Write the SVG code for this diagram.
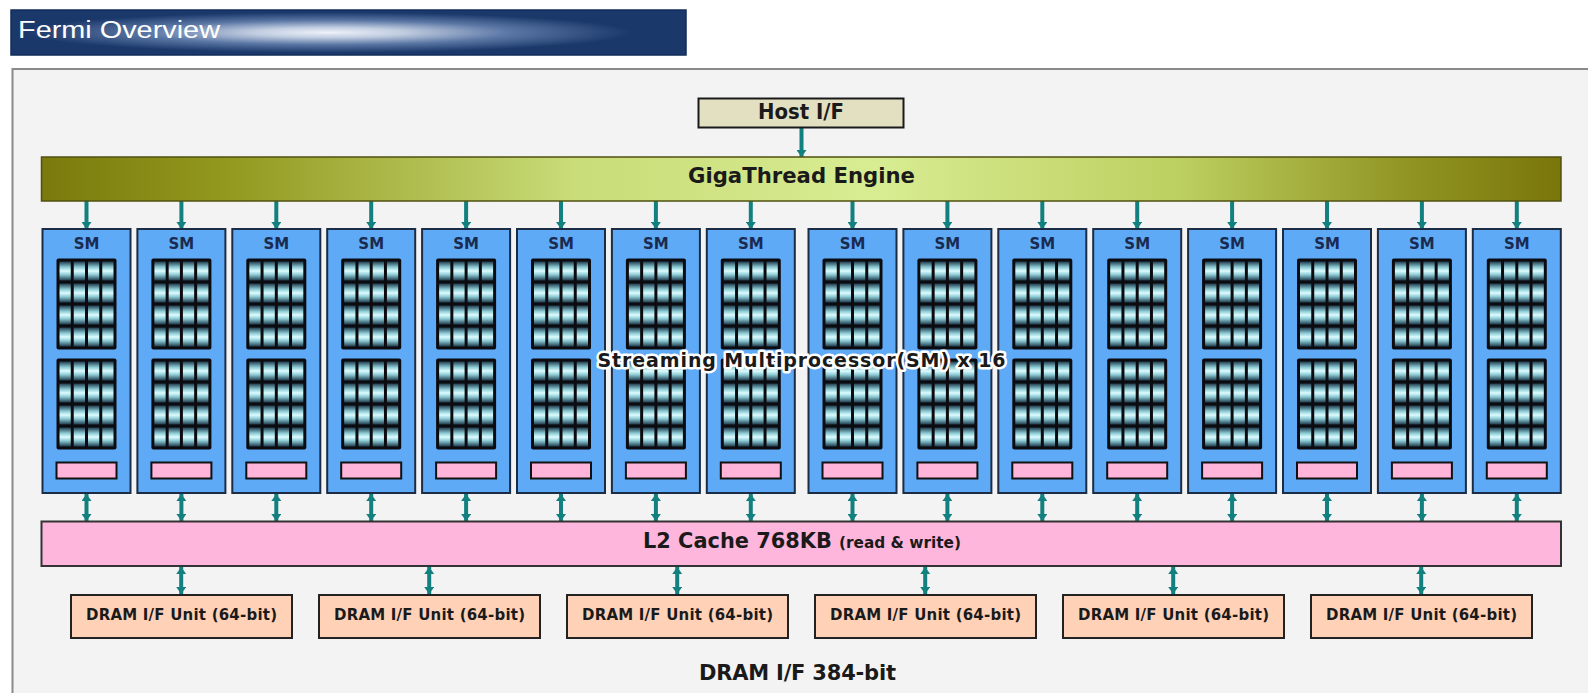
<svg xmlns="http://www.w3.org/2000/svg" xmlns:xlink="http://www.w3.org/1999/xlink" width="1588" height="693" viewBox="0 0 1588 693">
<style>
.lbl{font-family:"DejaVu Sans","Liberation Sans",sans-serif;font-weight:bold;fill:#1a1a1a;text-anchor:middle}
.sm{fill:#5eaaf6;stroke:#1c2c44;stroke-width:2}
.smt{font-family:"DejaVu Sans","Liberation Sans",sans-serif;font-weight:bold;font-size:15px;fill:#1a2a50;text-anchor:middle}
.pk{fill:#ffb4da;stroke:#111;stroke-width:2}
.dram{fill:#ffd2b8;stroke:#222;stroke-width:2}
.cn{stroke:#12807f;stroke-width:4;fill:none}
.one{marker-end:url(#ah)}
.two{marker-end:url(#ah);marker-start:url(#ah)}
</style>
<defs>
<marker id="ah" viewBox="0 0 7 10" refX="7" refY="5" markerWidth="7" markerHeight="10" markerUnits="userSpaceOnUse" orient="auto-start-reverse">
<path d="M0,0 L7,5 L0,10 z" fill="#12807f"/>
</marker>
<radialGradient id="tg" cx="0.47" cy="0.5" r="0.45">
<stop offset="0" stop-color="#eef2f8"/>
<stop offset="0.25" stop-color="#c0cce0"/>
<stop offset="0.6" stop-color="#5a76a4"/>
<stop offset="1" stop-color="#1a386a"/>
</radialGradient>
<linearGradient id="gg" x1="0" y1="0" x2="1" y2="0">
<stop offset="0" stop-color="#7a7a0c"/>
<stop offset="0.12" stop-color="#92981e"/>
<stop offset="0.35" stop-color="#c8dc78"/>
<stop offset="0.55" stop-color="#d8ec92"/>
<stop offset="0.75" stop-color="#bccf60"/>
<stop offset="0.9" stop-color="#909422"/>
<stop offset="1" stop-color="#7a760a"/>
</linearGradient>
<linearGradient id="cg" x1="0" y1="0" x2="0" y2="1">
<stop offset="0" stop-color="#1e3a4c"/>
<stop offset="0.3" stop-color="#8ccad4"/>
<stop offset="0.5" stop-color="#dcfcff"/>
<stop offset="0.7" stop-color="#8ccad4"/>
<stop offset="1" stop-color="#1e3a4c"/>
</linearGradient>
<g id="grid">
<rect x="0" y="0" width="60" height="91" rx="2" fill="#0c0c10"/>
<g fill="url(#cg)">
<rect x="3" y="3" width="11.25" height="19"/><rect x="17.25" y="3" width="11.25" height="19"/><rect x="31.5" y="3" width="11.25" height="19"/><rect x="45.75" y="3" width="11.25" height="19"/>
<rect x="3" y="25" width="11.25" height="19"/><rect x="17.25" y="25" width="11.25" height="19"/><rect x="31.5" y="25" width="11.25" height="19"/><rect x="45.75" y="25" width="11.25" height="19"/>
<rect x="3" y="47" width="11.25" height="19"/><rect x="17.25" y="47" width="11.25" height="19"/><rect x="31.5" y="47" width="11.25" height="19"/><rect x="45.75" y="47" width="11.25" height="19"/>
<rect x="3" y="69" width="11.25" height="19"/><rect x="17.25" y="69" width="11.25" height="19"/><rect x="31.5" y="69" width="11.25" height="19"/><rect x="45.75" y="69" width="11.25" height="19"/>
</g>
</g>
<g id="smcore">
<rect class="sm" x="-44" y="229" width="88" height="264"/>
<text class="smt" x="0" y="249">SM</text>
<use xlink:href="#grid" x="-30" y="258.5"/>
<use xlink:href="#grid" x="-30" y="358.5"/>
<rect class="pk" x="-30" y="462.5" width="60" height="16"/>
</g>
</defs>
<rect width="1588" height="693" fill="#ffffff"/>
<g id="title">
<rect x="11" y="10" width="675" height="45" fill="url(#tg)" stroke="#122c58" stroke-width="1.5"/>
<text x="18" y="38" font-family="Liberation Sans,Arial,sans-serif" font-size="23" fill="#ffffff" textLength="202" lengthAdjust="spacingAndGlyphs">Fermi Overview</text>
</g>
<rect id="panel" x="12.5" y="69" width="1600" height="650" fill="#f3f3f3" stroke="#8a8a8a" stroke-width="2"/>
<g id="connectors">
<line class="cn one" x1="801.5" y1="127" x2="801.5" y2="157"/>
<line class="cn one" x1="86.5" y1="201" x2="86.5" y2="229"/>
<line class="cn one" x1="181.4" y1="201" x2="181.4" y2="229"/>
<line class="cn one" x1="276.3" y1="201" x2="276.3" y2="229"/>
<line class="cn one" x1="371.2" y1="201" x2="371.2" y2="229"/>
<line class="cn one" x1="466.1" y1="201" x2="466.1" y2="229"/>
<line class="cn one" x1="561" y1="201" x2="561" y2="229"/>
<line class="cn one" x1="655.9" y1="201" x2="655.9" y2="229"/>
<line class="cn one" x1="750.8" y1="201" x2="750.8" y2="229"/>
<line class="cn one" x1="852.5" y1="201" x2="852.5" y2="229"/>
<line class="cn one" x1="947.4" y1="201" x2="947.4" y2="229"/>
<line class="cn one" x1="1042.3" y1="201" x2="1042.3" y2="229"/>
<line class="cn one" x1="1137.2" y1="201" x2="1137.2" y2="229"/>
<line class="cn one" x1="1232.1" y1="201" x2="1232.1" y2="229"/>
<line class="cn one" x1="1327" y1="201" x2="1327" y2="229"/>
<line class="cn one" x1="1421.9" y1="201" x2="1421.9" y2="229"/>
<line class="cn one" x1="1516.8" y1="201" x2="1516.8" y2="229"/>
<line class="cn two" x1="86.5" y1="494" x2="86.5" y2="521"/>
<line class="cn two" x1="181.4" y1="494" x2="181.4" y2="521"/>
<line class="cn two" x1="276.3" y1="494" x2="276.3" y2="521"/>
<line class="cn two" x1="371.2" y1="494" x2="371.2" y2="521"/>
<line class="cn two" x1="466.1" y1="494" x2="466.1" y2="521"/>
<line class="cn two" x1="561" y1="494" x2="561" y2="521"/>
<line class="cn two" x1="655.9" y1="494" x2="655.9" y2="521"/>
<line class="cn two" x1="750.8" y1="494" x2="750.8" y2="521"/>
<line class="cn two" x1="852.5" y1="494" x2="852.5" y2="521"/>
<line class="cn two" x1="947.4" y1="494" x2="947.4" y2="521"/>
<line class="cn two" x1="1042.3" y1="494" x2="1042.3" y2="521"/>
<line class="cn two" x1="1137.2" y1="494" x2="1137.2" y2="521"/>
<line class="cn two" x1="1232.1" y1="494" x2="1232.1" y2="521"/>
<line class="cn two" x1="1327" y1="494" x2="1327" y2="521"/>
<line class="cn two" x1="1421.9" y1="494" x2="1421.9" y2="521"/>
<line class="cn two" x1="1516.8" y1="494" x2="1516.8" y2="521"/>
<line class="cn two" x1="181.2" y1="567" x2="181.2" y2="594"/>
<line class="cn two" x1="429.2" y1="567" x2="429.2" y2="594"/>
<line class="cn two" x1="677.2" y1="567" x2="677.2" y2="594"/>
<line class="cn two" x1="925.2" y1="567" x2="925.2" y2="594"/>
<line class="cn two" x1="1173.2" y1="567" x2="1173.2" y2="594"/>
<line class="cn two" x1="1421.2" y1="567" x2="1421.2" y2="594"/>
</g>
<g id="host">
<rect x="698.5" y="98.5" width="205" height="29" fill="#e3e0c2" stroke="#1a1a1a" stroke-width="2"/>
<text class="lbl" x="801" y="119" font-size="21" textLength="86" lengthAdjust="spacingAndGlyphs">Host I/F</text>
</g>
<g id="gigathread">
<rect x="41.5" y="157" width="1519.5" height="44" fill="url(#gg)" stroke="#505010" stroke-width="1.5"/>
<text class="lbl" x="801.5" y="183" font-size="21" textLength="227" lengthAdjust="spacingAndGlyphs">GigaThread Engine</text>
</g>
<g id="sm1"><use xlink:href="#smcore" x="86.5"/></g>
<g id="sm2"><use xlink:href="#smcore" x="181.4"/></g>
<g id="sm3"><use xlink:href="#smcore" x="276.3"/></g>
<g id="sm4"><use xlink:href="#smcore" x="371.2"/></g>
<g id="sm5"><use xlink:href="#smcore" x="466.1"/></g>
<g id="sm6"><use xlink:href="#smcore" x="561"/></g>
<g id="sm7"><use xlink:href="#smcore" x="655.9"/></g>
<g id="sm8"><use xlink:href="#smcore" x="750.8"/></g>
<g id="sm9"><use xlink:href="#smcore" x="852.5"/></g>
<g id="sm10"><use xlink:href="#smcore" x="947.4"/></g>
<g id="sm11"><use xlink:href="#smcore" x="1042.3"/></g>
<g id="sm12"><use xlink:href="#smcore" x="1137.2"/></g>
<g id="sm13"><use xlink:href="#smcore" x="1232.1"/></g>
<g id="sm14"><use xlink:href="#smcore" x="1327"/></g>
<g id="sm15"><use xlink:href="#smcore" x="1421.9"/></g>
<g id="sm16"><use xlink:href="#smcore" x="1516.8"/></g>
<g id="sm-label">
<text class="lbl" x="801.5" y="367" font-size="19" textLength="408" stroke="#ffffff" stroke-width="5" stroke-linejoin="round" paint-order="stroke" fill="#111">Streaming Multiprocessor(SM) x 16</text>
</g>
<g id="l2">
<rect x="41.5" y="521.5" width="1519.5" height="44.5" fill="#ffb6dc" stroke="#333" stroke-width="2"/>
<text x="643" y="547.5" font-family="DejaVu Sans,Liberation Sans,sans-serif" font-weight="bold" fill="#1a1a1a"><tspan font-size="21" textLength="189" lengthAdjust="spacingAndGlyphs">L2 Cache 768KB</tspan><tspan font-size="15" dx="7" textLength="122" lengthAdjust="spacingAndGlyphs">(read &amp; write)</tspan></text>
</g>
<g id="dram1"><rect class="dram" x="71" y="595" width="221" height="43"/><text class="lbl" x="181.5" y="620" font-size="15" textLength="191">DRAM I/F Unit (64-bit)</text></g>
<g id="dram2"><rect class="dram" x="319" y="595" width="221" height="43"/><text class="lbl" x="429.5" y="620" font-size="15" textLength="191">DRAM I/F Unit (64-bit)</text></g>
<g id="dram3"><rect class="dram" x="567" y="595" width="221" height="43"/><text class="lbl" x="677.5" y="620" font-size="15" textLength="191">DRAM I/F Unit (64-bit)</text></g>
<g id="dram4"><rect class="dram" x="815" y="595" width="221" height="43"/><text class="lbl" x="925.5" y="620" font-size="15" textLength="191">DRAM I/F Unit (64-bit)</text></g>
<g id="dram5"><rect class="dram" x="1063" y="595" width="221" height="43"/><text class="lbl" x="1173.5" y="620" font-size="15" textLength="191">DRAM I/F Unit (64-bit)</text></g>
<g id="dram6"><rect class="dram" x="1311" y="595" width="221" height="43"/><text class="lbl" x="1421.5" y="620" font-size="15" textLength="191">DRAM I/F Unit (64-bit)</text></g>
<text id="dram-bus" class="lbl" x="797.5" y="680" font-size="21" textLength="197">DRAM I/F 384-bit</text>
</svg>
